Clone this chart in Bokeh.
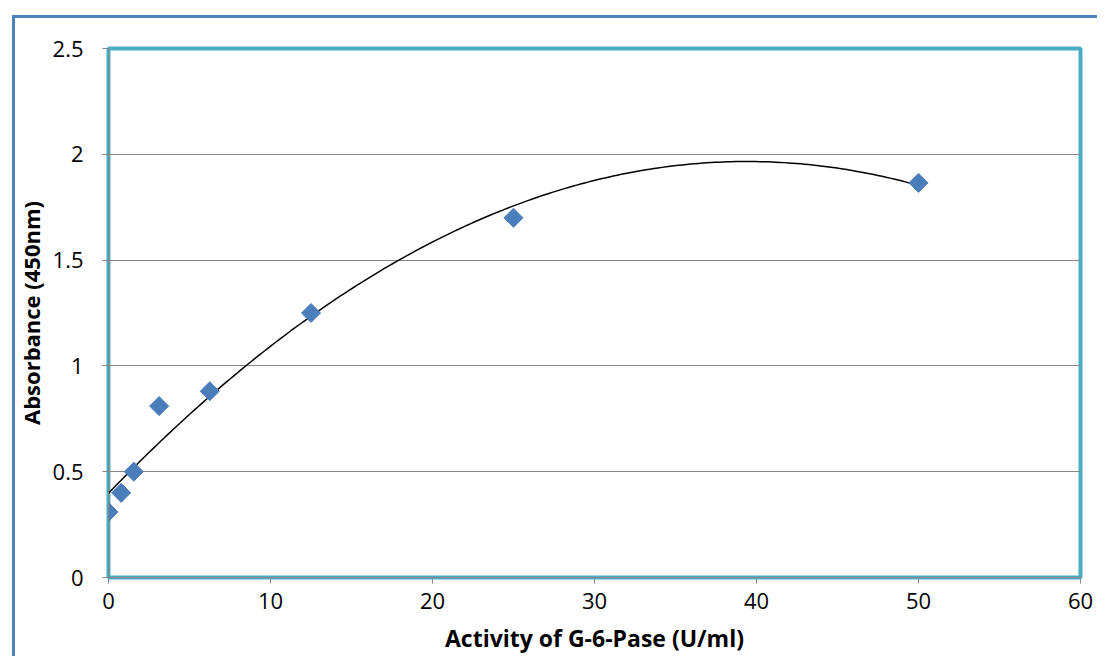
import numpy as np
from bokeh.plotting import figure
from bokeh.models import Range1d, FixedTicker, CustomJSTickFormatter
from bokeh.embed import file_html
from bokeh.resources import INLINE

# Data
activity = [0, 0.78125, 1.5625, 3.125, 6.25, 12.5, 25, 50]
absorbance = [0.31, 0.40, 0.50, 0.81, 0.88, 1.25, 1.70, 1.865]
x_ticks = [0, 10, 20, 30, 40, 50, 60]
y_ticks = [0, 0.5, 1, 1.5, 2, 2.5]

FONT = "Open Sans"
GRAY = "#868686"
FRAME_BLUE = "#4F81BD"

p = figure(width=1097, height=656, output_backend="svg", toolbar_location=None,
           x_range=Range1d(0, 60), y_range=Range1d(0, 2.5),
           min_border_left=108, min_border_right=17, min_border_top=48, min_border_bottom=78)
p.border_fill_alpha = 0
p.background_fill_color = "white"
grad = f"linear-gradient({FRAME_BLUE}, {FRAME_BLUE})"
p.styles = {
    "background": f"{grad} 12px 15px / 3px 100% no-repeat, {grad} 12px 15px / 100% 3px no-repeat, white",
}

p.outline_line_color = "#4BACC6"
p.outline_line_width = 4
p.outline_line_alpha = 1.0

p.xgrid.visible = False
p.ygrid.grid_line_color = GRAY
p.ygrid.grid_line_width = 1

p.xaxis.ticker = FixedTicker(ticks=x_ticks)
p.yaxis.ticker = FixedTicker(ticks=y_ticks)
p.xaxis.minor_tick_line_color = None
p.yaxis.minor_tick_line_color = None
for ax in (p.xaxis, p.yaxis):
    ax.axis_line_color = GRAY
    ax.major_tick_line_color = GRAY
    ax.major_tick_in = 0
    ax.major_tick_out = 6
    ax.major_label_text_font = FONT
    ax.major_label_text_font_size = "22px"
    ax.major_label_text_color = "#000000"
    ax.axis_label_text_font = FONT
    ax.axis_label_text_font_size = "22px"
    ax.axis_label_text_font_style = "bold"
    ax.axis_label_text_color = "#000000"
p.xaxis.axis_label_text_font_size = "23px"

p.yaxis.formatter = CustomJSTickFormatter(code="return String(tick);")
p.xaxis.formatter = CustomJSTickFormatter(code="return String(tick);")
p.xaxis.axis_label = "Activity of G-6-Pase (U/ml)"
p.yaxis.axis_label = "Absorbance (450nm)"
p.xaxis.major_label_standoff = 9
p.xaxis.axis_label_standoff = 10
p.yaxis.major_label_standoff = 19
p.yaxis.axis_label_standoff = 4

# Polynomial (order 2) trend line, as fitted from the data
coef = np.polyfit(activity, absorbance, 2)
xs = np.linspace(min(activity), max(activity), 200)
ys = np.polyval(coef, xs)
p.line(xs, ys, line_color="black", line_width=1.5)

p.scatter(activity, absorbance, marker="square", angle=np.pi / 4, size=13.5,
          fill_color="#4A7EBB", line_color="#4A7EBB")

open("out.html", "w").write(file_html(p, INLINE))
